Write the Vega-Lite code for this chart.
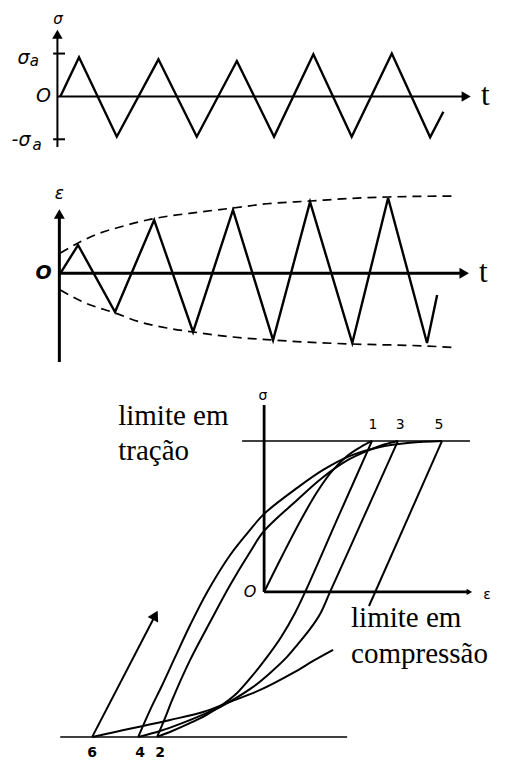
{
  "$schema": "https://vega.github.io/schema/vega-lite/v6.json",
  "background": "white",
  "padding": 0,
  "spacing": 0,
  "bounds": "flush",
  "config": {"view": {"stroke": null}},
  "resolve": {"scale": {"x": "independent", "y": "independent"}},
  "vconcat": [
    {
      "width": 508,
      "height": 150,
      "encoding": {
        "x": {"field": "t", "type": "quantitative", "scale": {"domain": [-3.1, 23], "nice": false, "zero": false}, "axis": null},
        "y": {"field": "s", "type": "quantitative", "scale": {"domain": [-1.25, 2.25], "nice": false, "zero": false}, "axis": null}
      },
      "layer": [
        {
          "data": {"values": [
            {"t": -0.15, "s": -1.18, "t2": -0.15, "s2": 1.45},
            {"t": -0.15, "s": 0, "t2": 20.85, "s2": 0},
            {"t": -0.37, "s": 1, "t2": 0.24, "s2": 1},
            {"t": -0.37, "s": -1, "t2": 0.24, "s2": -1}
          ]},
          "mark": {"type": "rule", "color": "black", "strokeWidth": 2},
          "encoding": {"x2": {"field": "t2"}, "y2": {"field": "s2"}}
        },
        {
          "data": {"values": [
            {"t": 0, "s": 0},
            {"t": 0.96, "s": 0.913},
            {"t": 2.9, "s": -0.94},
            {"t": 5.04, "s": 0.866},
            {"t": 7.01, "s": -0.94},
            {"t": 9.07, "s": 0.826},
            {"t": 10.98, "s": -0.94},
            {"t": 13.0, "s": 0.982},
            {"t": 14.97, "s": -0.94},
            {"t": 17.03, "s": 1.0},
            {"t": 19.0, "s": -0.954},
            {"t": 19.68, "s": -0.357}
          ]},
          "mark": {"type": "line", "color": "black", "strokeWidth": 2.4, "strokeJoin": "miter"}
        },
        {
          "data": {"values": [{"t": 20.85, "s": 0}]},
          "mark": {"type": "point", "shape": "triangle-right", "filled": true, "color": "black", "opacity": 1, "size": 110}
        },
        {
          "data": {"values": [{"t": -0.15, "s": 1.45}]},
          "mark": {"type": "point", "shape": "triangle-up", "filled": true, "color": "black", "opacity": 1, "size": 110}
        },
        {
          "data": {"values": [{"t": -0.12, "s": 1.8, "label": "σ"}]},
          "mark": {"type": "text", "font": "DejaVu Sans", "fontStyle": "italic", "fontSize": 15, "color": "black"},
          "encoding": {"text": {"field": "label"}}
        },
        {
          "data": {"values": [
            {"t": -1.89, "s": 0.9, "label": "σ"},
            {"t": -2.02, "s": -1.02, "label": "-σ"},
            {"t": -0.86, "s": 0, "label": "O"}
          ]},
          "mark": {"type": "text", "font": "DejaVu Sans", "fontStyle": "italic", "fontSize": 19, "color": "black"},
          "encoding": {"text": {"field": "label"}}
        },
        {
          "data": {"values": [
            {"t": -1.33, "s": 0.82, "label": "a"},
            {"t": -1.2, "s": -1.13, "label": "a"}
          ]},
          "mark": {"type": "text", "font": "DejaVu Sans", "fontStyle": "italic", "fontSize": 15, "color": "black"},
          "encoding": {"text": {"field": "label"}}
        },
        {
          "data": {"values": [{"t": 21.83, "s": 0, "label": "t"}]},
          "mark": {"type": "text", "font": "Liberation Serif", "fontSize": 31, "color": "black"},
          "encoding": {"text": {"field": "label"}}
        }
      ]
    },
    {
      "width": 508,
      "height": 220,
      "encoding": {
        "x": {"field": "t", "type": "quantitative", "scale": {"domain": [-3.1, 23], "nice": false, "zero": false}, "axis": null},
        "y": {"field": "e", "type": "quantitative", "scale": {"domain": [-1.272, 1.622], "nice": false, "zero": false}, "axis": null}
      },
      "layer": [
        {
          "data": {"values": [
            {"t": -0.05, "e": -1.167, "t2": -0.05, "e2": 0.78},
            {"t": -0.05, "e": 0, "t2": 20.75, "e2": 0}
          ]},
          "mark": {"type": "rule", "color": "black", "strokeWidth": 3},
          "encoding": {"x2": {"field": "t2"}, "y2": {"field": "e2"}}
        },
        {
          "data": {"values": [
            {"side": "upper", "t": 0, "e": 0.267},
            {"side": "upper", "t": 0.91, "e": 0.399},
            {"side": "upper", "t": 2.04, "e": 0.53},
            {"side": "upper", "t": 3.07, "e": 0.609},
            {"side": "upper", "t": 4.46, "e": 0.701},
            {"side": "upper", "t": 7.18, "e": 0.807},
            {"side": "upper", "t": 8.88, "e": 0.859},
            {"side": "upper", "t": 10.62, "e": 0.915},
            {"side": "upper", "t": 12.83, "e": 0.951},
            {"side": "upper", "t": 14.89, "e": 0.985},
            {"side": "upper", "t": 16.84, "e": 1.004},
            {"side": "upper", "t": 20.39, "e": 1.017},
            {"side": "lower", "t": 0, "e": -0.22},
            {"side": "lower", "t": 1.17, "e": -0.378},
            {"side": "lower", "t": 2.81, "e": -0.522},
            {"side": "lower", "t": 4.1, "e": -0.641},
            {"side": "lower", "t": 5.48, "e": -0.72},
            {"side": "lower", "t": 6.82, "e": -0.772},
            {"side": "lower", "t": 8.88, "e": -0.838},
            {"side": "lower", "t": 10.93, "e": -0.878},
            {"side": "lower", "t": 13.19, "e": -0.912},
            {"side": "lower", "t": 15.0, "e": -0.93},
            {"side": "lower", "t": 18.84, "e": -0.957},
            {"side": "lower", "t": 20.18, "e": -0.975}
          ]},
          "mark": {"type": "line", "color": "black", "strokeWidth": 1.7, "strokeDash": [9, 6], "interpolate": "monotone"},
          "encoding": {"detail": {"field": "side"}}
        },
        {
          "data": {"values": [
            {"t": 0, "e": 0},
            {"t": 0.91, "e": 0.372},
            {"t": 2.81, "e": -0.509},
            {"t": 4.82, "e": 0.701},
            {"t": 6.82, "e": -0.772},
            {"t": 8.87, "e": 0.833},
            {"t": 10.93, "e": -0.878},
            {"t": 12.83, "e": 0.938},
            {"t": 15.0, "e": -0.917},
            {"t": 16.84, "e": 0.991},
            {"t": 18.84, "e": -0.917},
            {"t": 19.36, "e": -0.286}
          ]},
          "mark": {"type": "line", "color": "black", "strokeWidth": 2.4, "strokeJoin": "miter"}
        },
        {
          "data": {"values": [{"t": 20.75, "e": 0}]},
          "mark": {"type": "point", "shape": "triangle-right", "filled": true, "color": "black", "opacity": 1, "size": 120}
        },
        {
          "data": {"values": [{"t": -0.05, "e": 0.78}]},
          "mark": {"type": "point", "shape": "triangle-up", "filled": true, "color": "black", "opacity": 1, "size": 120}
        },
        {
          "data": {"values": [{"t": -0.05, "e": 1.043, "label": "ε"}]},
          "mark": {"type": "text", "font": "DejaVu Sans", "fontStyle": "italic", "fontSize": 17, "color": "black"},
          "encoding": {"text": {"field": "label"}}
        },
        {
          "data": {"values": [{"t": -0.86, "e": 0, "label": "O"}]},
          "mark": {"type": "text", "font": "DejaVu Sans", "fontStyle": "italic", "fontWeight": "bold", "fontSize": 19, "color": "black"},
          "encoding": {"text": {"field": "label"}}
        },
        {
          "data": {"values": [{"t": 21.73, "e": 0, "label": "t"}]},
          "mark": {"type": "text", "font": "Liberation Serif", "fontSize": 31, "color": "black"},
          "encoding": {"text": {"field": "label"}}
        }
      ]
    },
    {
      "width": 508,
      "height": 390,
      "encoding": {
        "x": {"field": "eps", "type": "quantitative", "scale": {"domain": [-1.75, 1.616], "nice": false, "zero": false}, "axis": null},
        "y": {"field": "sig", "type": "quantitative", "scale": {"domain": [-1.113, 1.47], "nice": false, "zero": false}, "axis": null}
      },
      "layer": [
        {
          "data": {"values": [
            {"eps": -0.146, "sig": 1.0, "eps2": 1.364, "sig2": 1.0},
            {"eps": -1.351, "sig": -0.96, "eps2": 0.55, "sig2": -0.96}
          ]},
          "mark": {"type": "rule", "color": "black", "strokeWidth": 1.5},
          "encoding": {"x2": {"field": "eps2"}, "y2": {"field": "sig2"}}
        },
        {
          "data": {"values": [
            {"eps": 0, "sig": 0, "eps2": 0, "sig2": 1.238},
            {"eps": 0, "sig": 0, "eps2": 1.36, "sig2": 0}
          ]},
          "mark": {"type": "rule", "color": "black", "strokeWidth": 2.8},
          "encoding": {"x2": {"field": "eps2"}, "y2": {"field": "sig2"}}
        },
        {
          "data": {"values": [
            {"path": "A", "k": 0, "eps": 0, "sig": 0},
            {"path": "A", "k": 1, "eps": 0.12, "sig": 0.24},
            {"path": "A", "k": 2, "eps": 0.24, "sig": 0.47},
            {"path": "A", "k": 3, "eps": 0.35, "sig": 0.66},
            {"path": "A", "k": 4, "eps": 0.45, "sig": 0.8},
            {"path": "A", "k": 5, "eps": 0.55, "sig": 0.9},
            {"path": "A", "k": 6, "eps": 0.64, "sig": 0.96},
            {"path": "A", "k": 7, "eps": 0.715, "sig": 1.0},

            {"path": "B", "k": 0, "eps": 0.715, "sig": 1.0},
            {"path": "B", "k": 1, "eps": 0.497, "sig": 0.51},
            {"path": "B", "k": 2, "eps": 0.272, "sig": 0},
            {"path": "B", "k": 3, "eps": 0.205, "sig": -0.139},
            {"path": "B", "k": 4, "eps": 0.113, "sig": -0.298},
            {"path": "B", "k": 5, "eps": 0.02, "sig": -0.43},
            {"path": "B", "k": 6, "eps": -0.079, "sig": -0.556},
            {"path": "B", "k": 7, "eps": -0.179, "sig": -0.669},
            {"path": "B", "k": 8, "eps": -0.278, "sig": -0.748},
            {"path": "B", "k": 9, "eps": -0.384, "sig": -0.815},
            {"path": "B", "k": 10, "eps": -0.503, "sig": -0.874},
            {"path": "B", "k": 11, "eps": -0.609, "sig": -0.921},
            {"path": "B", "k": 12, "eps": -0.709, "sig": -0.96},

            {"path": "C", "k": 0, "eps": -0.709, "sig": -0.96},
            {"path": "C", "k": 1, "eps": -0.656, "sig": -0.834},
            {"path": "C", "k": 2, "eps": -0.609, "sig": -0.715},
            {"path": "C", "k": 3, "eps": -0.49, "sig": -0.45},
            {"path": "C", "k": 4, "eps": -0.358, "sig": -0.199},
            {"path": "C", "k": 5, "eps": -0.225, "sig": 0.046},
            {"path": "C", "k": 6, "eps": -0.093, "sig": 0.265},
            {"path": "C", "k": 7, "eps": 0, "sig": 0.404},
            {"path": "C", "k": 8, "eps": 0.219, "sig": 0.609},
            {"path": "C", "k": 9, "eps": 0.384, "sig": 0.755},
            {"path": "C", "k": 10, "eps": 0.556, "sig": 0.874},
            {"path": "C", "k": 11, "eps": 0.715, "sig": 0.947},
            {"path": "C", "k": 12, "eps": 0.801, "sig": 0.978},
            {"path": "C", "k": 13, "eps": 0.887, "sig": 1.0},

            {"path": "D", "k": 0, "eps": 0.887, "sig": 1.0},
            {"path": "D", "k": 1, "eps": 0.662, "sig": 0.5},
            {"path": "D", "k": 2, "eps": 0.437, "sig": 0},
            {"path": "D", "k": 3, "eps": 0.371, "sig": -0.146},
            {"path": "D", "k": 4, "eps": 0.305, "sig": -0.245},
            {"path": "D", "k": 5, "eps": 0.225, "sig": -0.344},
            {"path": "D", "k": 6, "eps": 0.152, "sig": -0.43},
            {"path": "D", "k": 7, "eps": 0.04, "sig": -0.536},
            {"path": "D", "k": 8, "eps": -0.073, "sig": -0.629},
            {"path": "D", "k": 9, "eps": -0.185, "sig": -0.702},
            {"path": "D", "k": 10, "eps": -0.291, "sig": -0.762},
            {"path": "D", "k": 11, "eps": -0.424, "sig": -0.821},
            {"path": "D", "k": 12, "eps": -0.556, "sig": -0.874},
            {"path": "D", "k": 13, "eps": -0.689, "sig": -0.921},
            {"path": "D", "k": 14, "eps": -0.834, "sig": -0.96},

            {"path": "E", "k": 0, "eps": -0.834, "sig": -0.96},
            {"path": "E", "k": 1, "eps": -0.755, "sig": -0.781},
            {"path": "E", "k": 2, "eps": -0.675, "sig": -0.616},
            {"path": "E", "k": 3, "eps": -0.589, "sig": -0.43},
            {"path": "E", "k": 4, "eps": -0.49, "sig": -0.219},
            {"path": "E", "k": 5, "eps": -0.377, "sig": 0},
            {"path": "E", "k": 6, "eps": -0.225, "sig": 0.245},
            {"path": "E", "k": 7, "eps": -0.093, "sig": 0.411},
            {"path": "E", "k": 8, "eps": 0, "sig": 0.517},
            {"path": "E", "k": 9, "eps": 0.219, "sig": 0.689},
            {"path": "E", "k": 10, "eps": 0.391, "sig": 0.808},
            {"path": "E", "k": 11, "eps": 0.57, "sig": 0.901},
            {"path": "E", "k": 12, "eps": 0.768, "sig": 0.96},
            {"path": "E", "k": 13, "eps": 0.967, "sig": 0.988},
            {"path": "E", "k": 14, "eps": 1.179, "sig": 1.0},

            {"path": "F", "k": 0, "eps": 1.179, "sig": 1.0},
            {"path": "F", "k": 1, "eps": 0.695, "sig": -0.093},

            {"path": "G", "k": 0, "eps": 0.457, "sig": -0.384},
            {"path": "G", "k": 1, "eps": 0.325, "sig": -0.457},
            {"path": "G", "k": 2, "eps": 0.192, "sig": -0.536},
            {"path": "G", "k": 3, "eps": -0.026, "sig": -0.649},
            {"path": "G", "k": 4, "eps": -0.245, "sig": -0.735},
            {"path": "G", "k": 5, "eps": -0.404, "sig": -0.795},
            {"path": "G", "k": 6, "eps": -0.623, "sig": -0.848},
            {"path": "G", "k": 7, "eps": -0.834, "sig": -0.894},
            {"path": "G", "k": 8, "eps": -0.987, "sig": -0.927},
            {"path": "G", "k": 9, "eps": -1.139, "sig": -0.96},

            {"path": "H", "k": 0, "eps": -1.139, "sig": -0.96},
            {"path": "H", "k": 1, "eps": -0.721, "sig": -0.154}
          ]},
          "mark": {"type": "line", "color": "black", "strokeWidth": 2, "interpolate": "catmull-rom"},
          "encoding": {"detail": {"field": "path"}, "order": {"field": "k", "type": "quantitative"}}
        },
        {
          "data": {"values": [{"eps": -0.721, "sig": -0.154}]},
          "mark": {"type": "point", "shape": "triangle-up", "angle": 27.5, "filled": true, "color": "black", "opacity": 1, "size": 140}
        },
        {
          "data": {"values": [{"eps": 1.36, "sig": 0}]},
          "mark": {"type": "point", "shape": "triangle-right", "filled": true, "color": "black", "opacity": 1, "size": 40}
        },
        {
          "data": {"values": [
            {"eps": -0.967, "sig": 1.106, "label": "limite em"},
            {"eps": -0.967, "sig": 0.874, "label": "tração"},
            {"eps": 0.576, "sig": -0.232, "label": "limite em"},
            {"eps": 0.576, "sig": -0.47, "label": "compressão"}
          ]},
          "mark": {"type": "text", "font": "Liberation Serif", "fontSize": 29, "align": "left", "baseline": "alphabetic", "color": "black"},
          "encoding": {"text": {"field": "label"}}
        },
        {
          "data": {"values": [
            {"eps": 0.722, "sig": 1.106, "label": "1"},
            {"eps": 0.901, "sig": 1.106, "label": "3"},
            {"eps": 1.159, "sig": 1.106, "label": "5"},
            {"eps": -0.007, "sig": 1.298, "label": "σ"},
            {"eps": 1.477, "sig": -0.02, "label": "ε"}
          ]},
          "mark": {"type": "text", "font": "DejaVu Sans", "fontSize": 14, "color": "black"},
          "encoding": {"text": {"field": "label"}}
        },
        {
          "data": {"values": [
            {"eps": -1.139, "sig": -1.066, "label": "6"},
            {"eps": -0.821, "sig": -1.066, "label": "4"},
            {"eps": -0.689, "sig": -1.066, "label": "2"}
          ]},
          "mark": {"type": "text", "font": "DejaVu Sans", "fontWeight": "bold", "fontSize": 14, "color": "black"},
          "encoding": {"text": {"field": "label"}}
        },
        {
          "data": {"values": [{"eps": -0.093, "sig": 0, "label": "O"}]},
          "mark": {"type": "text", "font": "DejaVu Sans", "fontStyle": "italic", "fontSize": 16, "color": "black"},
          "encoding": {"text": {"field": "label"}}
        }
      ]
    }
  ]
}
